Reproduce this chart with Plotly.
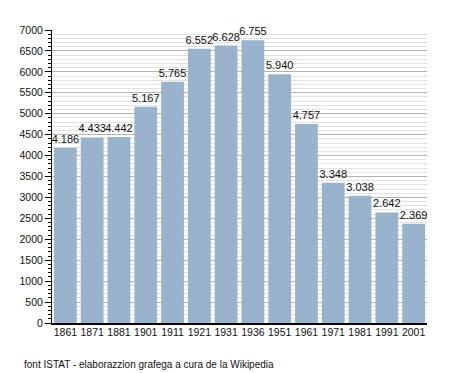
import plotly.graph_objects as go

years = ["1861", "1871", "1881", "1901", "1911", "1921", "1931", "1936",
         "1951", "1961", "1971", "1981", "1991", "2001"]
population = [4186, 4433, 4442, 5167, 5765, 6552, 6628, 6755,
              5940, 4757, 3348, 3038, 2642, 2369]
y_ticks = [0, 500, 1000, 1500, 2000, 2500, 3000, 3500, 4000, 4500,
           5000, 5500, 6000, 6500, 7000]
source_note = "font ISTAT - elaborazzion grafega a cura de la Wikipedia"

FONT = "Liberation Sans, Arial, sans-serif"

# page body has an 8px margin, so the figure is drawn 8px smaller
W, H = 447, 365
ML, MR, MT, MB = 42, 28, 22, 50
PW, PH = W - ML - MR, H - MT - MB

fig = go.Figure(go.Bar(
    x=years, y=population,
    marker=dict(color="#99b3cc", line=dict(width=0)),
    texttemplate="%{y:,}", textposition="outside",
    constraintext="none",
    textfont=dict(family=FONT, size=11, color="#111111"),
    cliponaxis=False,
))

fig.update_layout(
    width=W, height=H,
    margin=dict(l=ML, r=MR, t=MT, b=MB),
    paper_bgcolor="white", plot_bgcolor="white",
    separators=",.",
    bargap=0.15,
    showlegend=False,
    font=dict(family=FONT, size=10.5, color="#111111"),
    xaxis=dict(
        type="category", showgrid=False, ticks="",
        showline=True, linecolor="black", linewidth=1.5,
        ticklabelstandoff=-1,
        tickfont=dict(family=FONT, size=10.5, color="#111111"),
    ),
    yaxis=dict(
        range=[0, 7000], tickvals=y_ticks, ticktext=[str(v) for v in y_ticks],
        showgrid=True, gridcolor="#b4b4b4", gridwidth=1,
        ticks="outside", ticklen=6, tickcolor="black",
        showline=True, linecolor="black", linewidth=1,
        zeroline=False,
        minor=dict(dtick=100, tick0=0, showgrid=True, gridcolor="#e2e2e2",
                   gridwidth=1, ticks="outside", ticklen=3, tickcolor="black"),
        tickfont=dict(family=FONT, size=10.5, color="#111111"),
    ),
    annotations=[dict(
        text=source_note, xref="paper", yref="paper",
        x=-30 / PW, y=-34 / PH, xanchor="left", yanchor="top",
        showarrow=False, font=dict(family=FONT, size=10, color="#111111"),
    )],
)

fig.write_html("out.html")
